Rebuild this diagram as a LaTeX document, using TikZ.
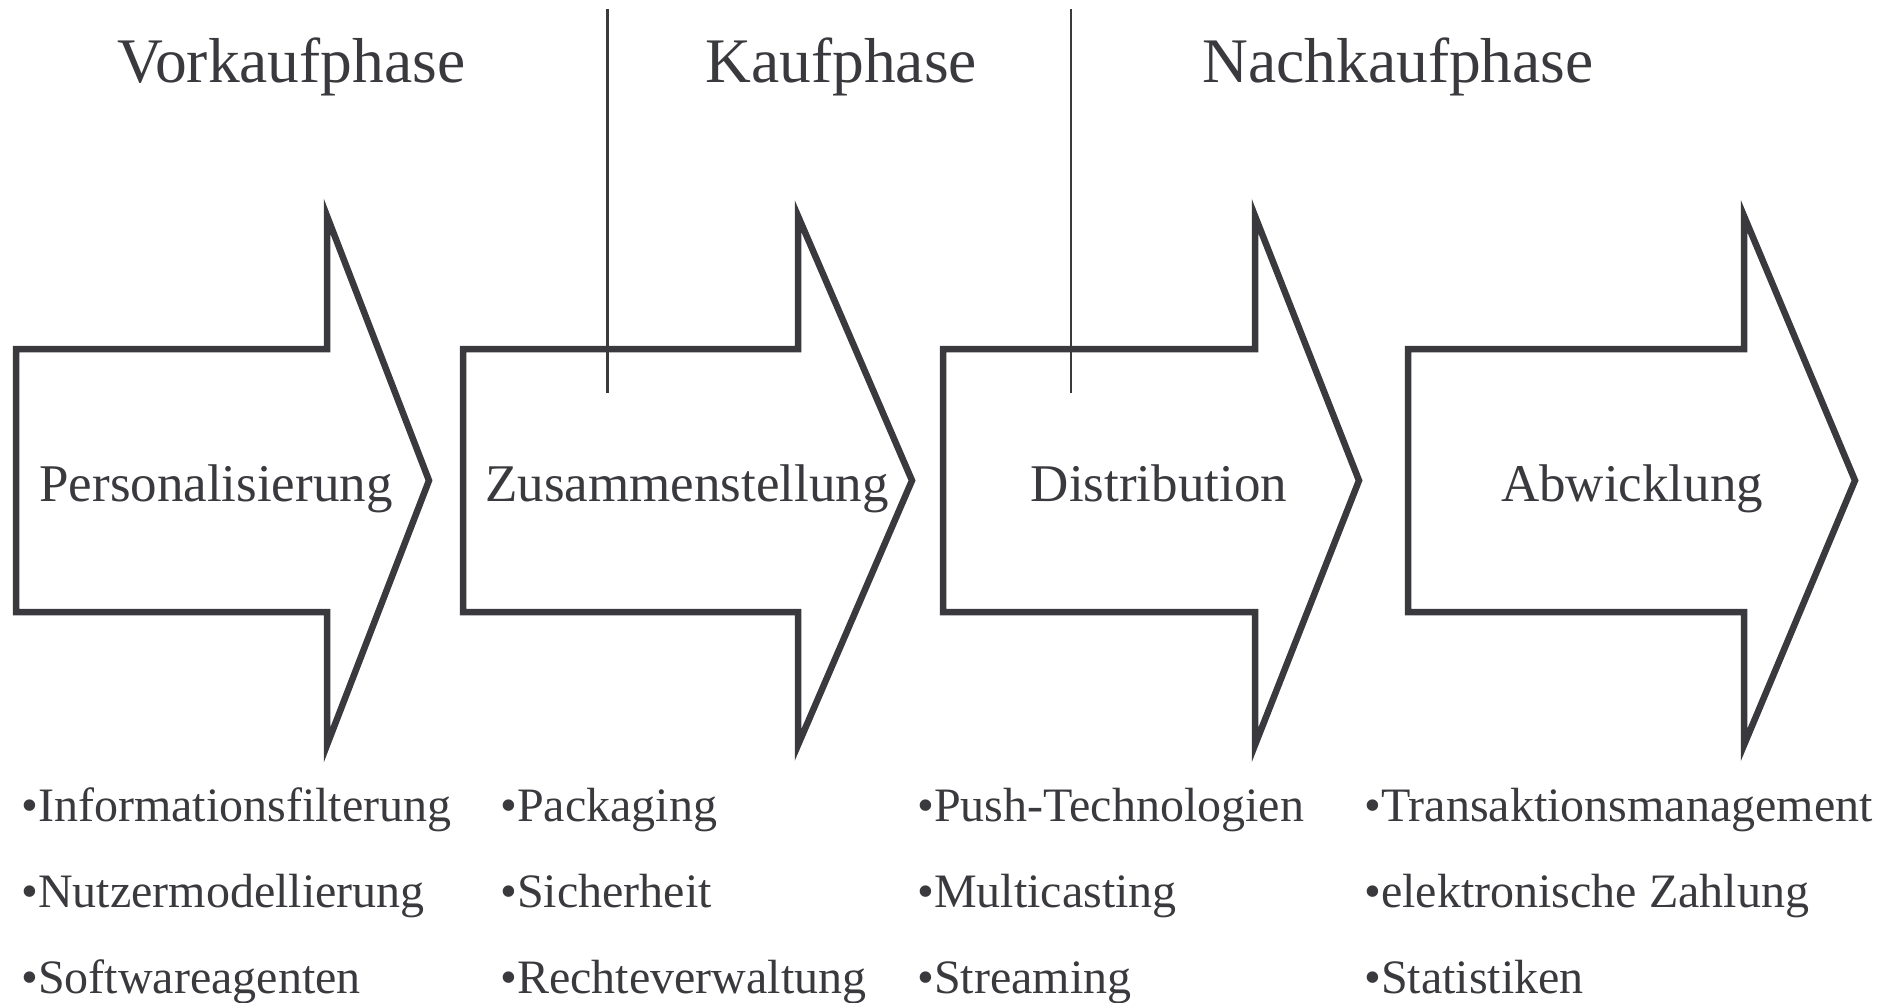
\documentclass[tikz,border=0pt]{standalone}
\usepackage{fontspec}
\setmainfont{Liberation Serif}
\definecolor{ink}{RGB}{58,57,62}
\begin{document}
\begin{tikzpicture}[x=0.5pt,y=-0.5pt,
  phasearrow/.style={draw=ink,line width=3.25pt,line join=miter,fill=white},
  divider/.style={draw=ink,line width=1.15pt},
  phasetitle/.style={anchor=base west,inner sep=0pt,text=ink,font=\fontsize{31.75}{38}\selectfont},
  steplabel/.style={anchor=base,inner sep=0pt,text=ink,font=\fontsize{26.5}{32}\selectfont},
  listitem/.style={anchor=base west,inner sep=0pt,text=ink,font=\fontsize{24}{29}\selectfont}]
\useasboundingbox (0,0) rectangle (1894,1002);

% process arrows: left edge / end of shaft / tip
\foreach \l/\s/\t in {16/327/429, 463/798/912, 943/1255/1359, 1408/1744/1855} {
  \draw[phasearrow] (\l,349) -- (\s,349) -- (\s,216) -- (\t,480.5)
    -- (\s,745) -- (\s,612) -- (\l,612) -- cycle;
}

% phase dividers
\coordinate (d1top) at (607.5,9);
\coordinate (d1bot) at (607.5,393);
\coordinate (d2top) at (1071,9);
\coordinate (d2bot) at (1071,393);
\draw[divider] (d1top) -- (d1bot);
\draw[divider] (d2top) -- (d2bot);

% phase titles
\node[phasetitle] (vorkauf)  at (117,82)  {Vorkaufphase};
\node[phasetitle] (kauf)     at (705,82)  {Kaufphase};
\node[phasetitle] (nachkauf) at (1202,82) {Nachkaufphase};

% arrow labels
\node[steplabel] (pers)  at (216,501)  {Personalisierung};
\node[steplabel] (zus)   at (687,501)  {Zusammenstellung};
\node[steplabel] (dist)  at (1159,501) {Distribution};
\node[steplabel] (abw)   at (1632,501) {Abwicklung};

% supporting techniques
\node[listitem] (i11) at (21,821)  {•Informationsfilterung};
\node[listitem] (i12) at (21,907)  {•Nutzermodellierung};
\node[listitem] (i13) at (21,993)  {•Softwareagenten};

\node[listitem] (i21) at (500,821) {•Packaging};
\node[listitem] (i22) at (500,907) {•Sicherheit};
\node[listitem] (i23) at (500,993) {•Rechteverwaltung};

\node[listitem] (i31) at (917,821) {•Push-Technologien};
\node[listitem] (i32) at (917,907) {•Multicasting};
\node[listitem] (i33) at (917,993) {•Streaming};

\node[listitem] (i41) at (1364,821) {•Transaktionsmanagement};
\node[listitem] (i42) at (1364,907) {•elektronische Zahlung};
\node[listitem] (i43) at (1364,993) {•Statistiken};
\end{tikzpicture}
\end{document}
